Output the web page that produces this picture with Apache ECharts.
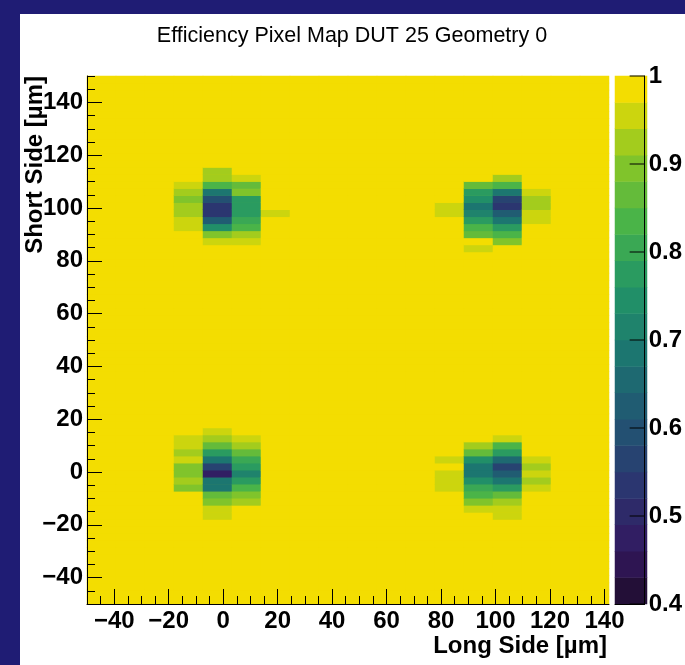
<!DOCTYPE html>
<html>
<head>
<meta charset="utf-8">
<title>Efficiency Pixel Map DUT 25 Geometry 0</title>
<script src="https://cdn.jsdelivr.net/npm/echarts@6/dist/echarts.min.js"></script>
<style>
  html, body { margin: 0; padding: 0; background: #fff; }
  #chart { width: 685px; height: 665px; }
</style>
</head>
<body>
<div id="chart"></div>
<script>
// binning of the map, in um
var xMin = -50, xMax = 141.67, nBinsX = 18;
var yMin = -50, yMax = 150, nBinsY = 75;

var xTicks = [-40, -20, 0, 20, 40, 60, 80, 100, 120, 140];
var yTicks = [-40, -20, 0, 20, 40, 60, 80, 100, 120, 140];
var zTicks = [0.4, 0.5, 0.6, 0.7, 0.8, 0.9, 1];

// efficiency everywhere outside the four spots
var flatEff = 1.0;

// spots: rows go from top bin (yTop) downwards, columns from x0 rightwards, null = flat
var spotTL_x0 = 3, spotTL_yTop = 61;
var spotTL = [
  [null, 0.92, null, null],
  [null, 0.92, 0.95, null],
  [0.95, 0.83, 0.86, null],
  [0.92, 0.68, 0.89, null],
  [0.89, 0.59, 0.77, null],
  [0.92, 0.53, 0.77, null],
  [0.92, 0.53, 0.77, 0.95],
  [0.95, 0.62, 0.80, null],
  [0.95, 0.74, 0.83, null],
  [null, 0.89, 0.92, null],
  [null, 0.95, 0.95, null]
];

var spotTR_x0 = 12, spotTR_yTop = 60;
var spotTR = [
  [null, null, 0.92, null],
  [null, 0.86, 0.83, null],
  [null, 0.77, 0.68, 0.95],
  [null, 0.74, 0.56, 0.92],
  [0.95, 0.68, 0.53, 0.92],
  [0.95, 0.71, 0.62, 0.95],
  [null, 0.77, 0.68, 0.95],
  [null, 0.83, 0.77, null],
  [null, 0.86, 0.83, null],
  [null, null, 0.89, null],
  [null, 0.95, null, null]
];

var spotBL_x0 = 3, spotBL_yTop = 24;
var spotBL = [
  [null, 0.95, null],
  [0.95, 0.92, 0.95],
  [0.95, 0.86, 0.92],
  [0.92, 0.77, 0.86],
  [0.95, 0.68, 0.80],
  [0.89, 0.56, 0.77],
  [0.89, 0.47, 0.71],
  [0.92, 0.68, 0.77],
  [0.89, 0.68, 0.83],
  [null, 0.86, 0.89],
  [null, 0.89, 0.92],
  [null, 0.95, null],
  [null, 0.95, null]
];

var spotBR_x0 = 12, spotBR_yTop = 23;
var spotBR = [
  [null, null, 0.95, null],
  [null, 0.92, 0.83, null],
  [null, 0.86, 0.77, null],
  [0.95, 0.74, 0.65, 0.95],
  [null, 0.68, 0.56, 0.92],
  [0.95, 0.68, 0.62, 0.95],
  [0.95, 0.74, 0.68, 0.92],
  [0.95, 0.80, 0.77, 0.95],
  [null, 0.83, 0.86, null],
  [null, 0.89, 0.92, null],
  [null, 0.95, 0.95, null],
  [null, null, 0.95, null]
];

// ROOT kViridis palette, 20 contours between 0.4 and 1
var zMin = 0.4, zMax = 1.0, nLevels = 20;
var vStops = [0, 0.125, 0.25, 0.375, 0.5, 0.625, 0.75, 0.875, 1];
var vRed   = [26, 51, 43, 33, 28, 35, 74, 144, 246];
var vGreen = [9, 24, 55, 87, 118, 150, 180, 200, 222];
var vBlue  = [30, 96, 112, 114, 112, 101, 72, 35, 0];

function viridis(f) {
  var g = 1;
  while (g < vStops.length - 1 && f > vStops[g]) g++;
  var t = (f - vStops[g - 1]) / (vStops[g] - vStops[g - 1]);
  var c = function (a) { return Math.round(a[g - 1] + t * (a[g] - a[g - 1])); };
  return 'rgb(' + c(vRed) + ',' + c(vGreen) + ',' + c(vBlue) + ')';
}

var pieces = [], barData = [], levelCats = [];
for (var k = 0; k < nLevels; k++) {
  var lo = +(zMin + k * (zMax - zMin) / nLevels).toFixed(6);
  var hi = +(zMin + (k + 1) * (zMax - zMin) / nLevels).toFixed(6);
  var idx = Math.floor((k + 0.99) * 255 / nLevels);
  var p = { gte: lo, color: viridis(idx / 255) };
  if (k == nLevels - 1) p.lte = hi; else p.lt = hi;
  pieces.push(p);
  levelCats.push(String(k));
  barData.push([0, k, (lo + hi) / 2]);
}
var topColor = pieces[nLevels - 1].color;

// fill the map
var eff = [];
for (var i = 0; i < nBinsX; i++) {
  eff.push([]);
  for (var j = 0; j < nBinsY; j++) eff[i].push(flatEff);
}
function paste(spot, x0, yTop) {
  spot.forEach(function (row, r) {
    row.forEach(function (v, c) {
      if (v !== null) eff[x0 + c][yTop - r] = v;
    });
  });
}
paste(spotTL, spotTL_x0, spotTL_yTop);
paste(spotTR, spotTR_x0, spotTR_yTop);
paste(spotBL, spotBL_x0, spotBL_yTop);
paste(spotBR, spotBR_x0, spotBR_yTop);

var mapData = [], xCats = [], yCats = [];
for (var i = 0; i < nBinsX; i++) xCats.push(String(i));
for (var j = 0; j < nBinsY; j++) yCats.push(String(j));
for (var i = 0; i < nBinsX; i++)
  for (var j = 0; j < nBinsY; j++) mapData.push([i, j, eff[i][j]]);

var xMinor = [], yMinor = [];
for (var v = -45; v < xMax; v += 5) xMinor.push(v);
for (var v = -45; v <= yMax; v += 5) yMinor.push(v);

var fontFam = '"Liberation Sans", Arial, Helvetica, sans-serif';
var lblStyle = { color: '#000', fontWeight: 'bold', fontSize: 24, fontFamily: fontFam };
function minus(v) { return v < 0 ? '\u2212' + (-v) : String(v); }

var myChart = echarts.init(document.getElementById('chart'));
myChart.setOption({
  animation: false,
  backgroundColor: '#fff',
  grid: [
    { left: 87, top: 76, width: 522, height: 528, show: true, backgroundColor: topColor, borderWidth: 0 },
    { left: 615, top: 76, width: 32, height: 528 },
    { left: 615, top: 76, width: 32, height: 528, z: 20 }
  ],
  visualMap: {
    type: 'piecewise',
    show: false,
    dimension: 2,
    seriesIndex: [0, 1],
    pieces: pieces
  },
  xAxis: [
    { type: 'category', gridIndex: 0, data: xCats, show: false },
    {
      type: 'value', gridIndex: 0, min: xMin, max: xMax, position: 'bottom', z: 10,
      axisLine: { show: true, onZero: false, lineStyle: { color: '#000', width: 1 } },
      axisTick: { show: true, inside: true, length: 15, customValues: xTicks, lineStyle: { color: '#000' } },
      axisLabel: { customValues: xTicks, margin: 5, formatter: minus, textStyle: lblStyle },
      splitLine: { show: false }
    },
    {
      type: 'value', gridIndex: 0, min: xMin, max: xMax, position: 'bottom', z: 10,
      axisLine: { show: false, onZero: false },
      axisTick: { show: true, inside: true, length: 8, customValues: xMinor, lineStyle: { color: '#000' } },
      axisLabel: { show: false },
      splitLine: { show: false }
    },
    { type: 'category', gridIndex: 1, data: ['z'], show: false },
    {
      type: 'value', gridIndex: 2, min: 0, max: 1, position: 'bottom', z: 20,
      axisLine: { show: true, onZero: false, lineStyle: { color: '#000', width: 1 } },
      axisTick: { show: false }, axisLabel: { show: false }, splitLine: { show: false }
    }
  ],
  yAxis: [
    { type: 'category', gridIndex: 0, data: yCats, show: false },
    {
      type: 'value', gridIndex: 0, min: yMin, max: yMax, position: 'left', z: 10,
      axisLine: { show: true, onZero: false, lineStyle: { color: '#000', width: 1 } },
      axisTick: { show: true, inside: true, length: 15, customValues: yTicks, lineStyle: { color: '#000' } },
      axisLabel: { customValues: yTicks, margin: 4, formatter: minus, textStyle: lblStyle },
      splitLine: { show: false }
    },
    {
      type: 'value', gridIndex: 0, min: yMin, max: yMax, position: 'left', z: 10,
      axisLine: { show: false, onZero: false },
      axisTick: { show: true, inside: true, length: 8, customValues: yMinor, lineStyle: { color: '#000' } },
      axisLabel: { show: false },
      splitLine: { show: false }
    },
    { type: 'category', gridIndex: 1, data: levelCats, show: false },
    {
      type: 'value', gridIndex: 2, min: zMin, max: zMax, position: 'right', z: 20,
      axisLine: { show: true, onZero: false, lineStyle: { color: '#000', width: 1 } },
      axisTick: { show: false },
      axisLabel: { customValues: zTicks, margin: 4, textStyle: lblStyle },
      splitLine: { show: false }
    }
  ],
  series: [
    {
      name: 'efficiency', type: 'heatmap',
      xAxisIndex: 0, yAxisIndex: 0,
      data: mapData,
      emphasis: { disabled: true }
    },
    {
      name: 'palette', type: 'heatmap',
      xAxisIndex: 3, yAxisIndex: 3, z: 1,
      data: barData,
      emphasis: { disabled: true }
    },
    {
      // palette axis ticks, pointing into the colour bar
      name: 'paletteTicks', type: 'custom',
      xAxisIndex: 4, yAxisIndex: 4, z: 30, silent: true,
      data: zTicks.map(function (t) { return [1, t]; }),
      renderItem: function (params, api) {
        var pt = api.coord([api.value(0), api.value(1)]);
        return {
          type: 'line',
          shape: { x1: pt[0] - 15, y1: pt[1], x2: pt[0], y2: pt[1] },
          style: { stroke: '#000', lineWidth: 1 }
        };
      }
    }
  ],
  graphic: [
    { type: 'rect', left: 0, top: 0, shape: { width: 20, height: 665 }, style: { fill: '#1f1c74' }, z: -1 },
    { type: 'rect', left: 0, top: 0, shape: { width: 685, height: 14 }, style: { fill: '#1f1c74' }, z: -1 },
    {
      type: 'text', x: 352, y: 36,
      style: { text: 'Efficiency Pixel Map DUT 25 Geometry 0', fill: '#000', font: '21.5px ' + fontFam, textAlign: 'center', textVerticalAlign: 'middle' }
    },
    {
      type: 'text', x: 607, y: 646,
      style: { text: 'Long Side [\u00b5m]', fill: '#000', font: 'bold 24px ' + fontFam, textAlign: 'right', textVerticalAlign: 'middle' }
    },
    {
      type: 'text', x: 35, y: 76, rotation: Math.PI / 2,
      style: { text: 'Short Side [\u00b5m]', fill: '#000', font: 'bold 24px ' + fontFam, textAlign: 'right', textVerticalAlign: 'middle' }
    }
  ]
});
</script>
</body>
</html>
